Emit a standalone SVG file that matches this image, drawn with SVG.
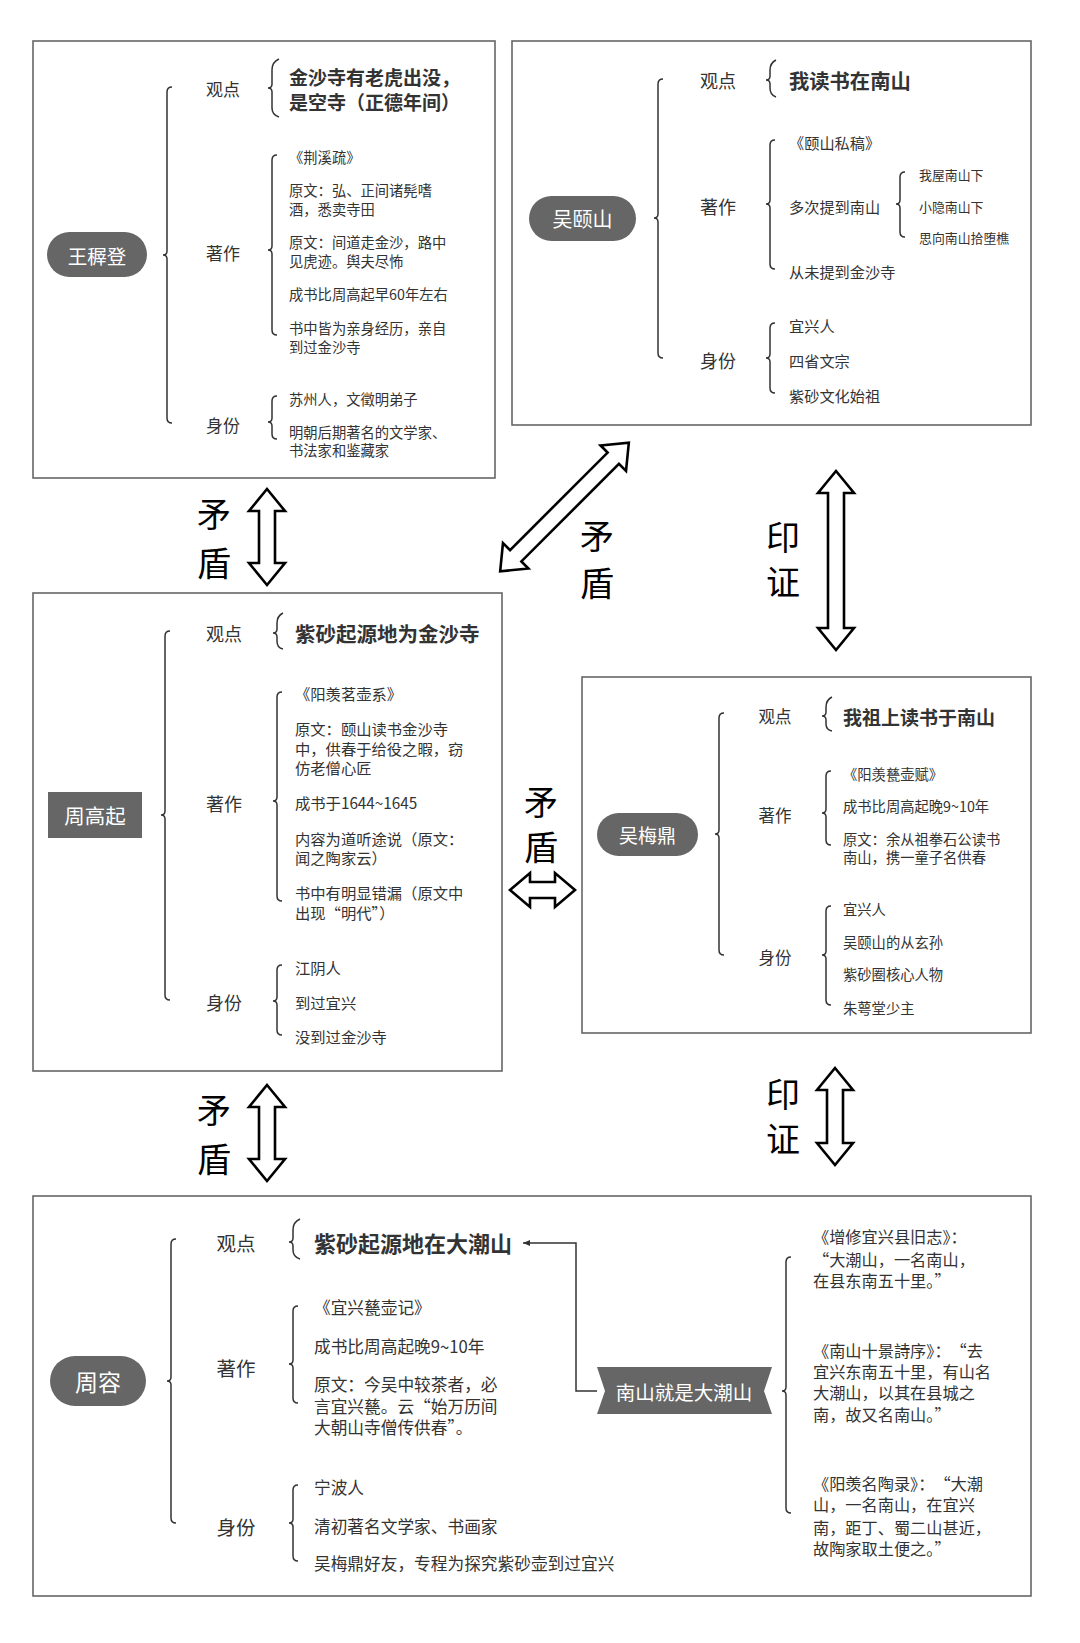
<svg xmlns="http://www.w3.org/2000/svg" width="1080" height="1643" viewBox="0 0 1080 1643">
<style>
text{font-family:"Noto Sans CJK SC","Noto Sans",sans-serif;fill:#333;dominant-baseline:central}
.box{fill:#fff;stroke:#666;stroke-width:1.6}
.br{fill:none;stroke:#333;stroke-width:1.5}
.pill{fill:#666}
.nt{fill:#fff;text-anchor:middle}
.lb{text-anchor:middle}
.b{font-weight:bold}
.arr{fill:#fff;stroke:#000;stroke-width:2.6;stroke-linejoin:miter}
.big{font-size:34px;fill:#000;text-anchor:middle}
.con{fill:none;stroke:#333;stroke-width:1.5}
</style>
<defs>
<marker id="ah" markerWidth="8" markerHeight="8" refX="7" refY="4" orient="auto" markerUnits="userSpaceOnUse">
<path d="M0,1 L7,4 L0,7 z" fill="#333"/>
</marker>
</defs>
<rect width="1080" height="1643" fill="#fff"/>

<g id="wang">
<rect class="box" x="33" y="41" width="462" height="437"/>
<rect class="pill" x="47" y="232" width="100" height="45" rx="22.5"/>
<text class="nt" x="97" y="255" font-size="19.5">王稺登</text>
<path class="br" d="M172,87 Q167,87 167,92 V251 Q167,255 163,255 Q167,255 167,259 V418 Q167,423 172,423"/>
<g font-size="17">
<text class="lb" x="223" y="88">观点</text>
<text class="lb" x="223" y="252">著作</text>
<text class="lb" x="223" y="424">身份</text>
</g>
<path class="br" d="M279,59 Q272,62 272,70 V84 Q272,88 268,88 Q272,88 272,92 V108 Q272,115 279,117"/>
<text class="b" x="289" y="76" font-size="19">金沙寺有老虎出没，</text>
<text class="b" x="289" y="101" font-size="19">是空寺（正德年间）</text>
<path class="br" d="M277,155 Q272,155 272,160 V246 Q272,250 268,250 Q272,250 272,254 V330 Q272,335 277,335"/>
<g font-size="14.3">
<text x="289" y="156">《荆溪疏》</text>
<text x="289" y="189">原文：弘、正间诸髡嗜</text>
<text x="289" y="208">酒，悉卖寺田</text>
<text x="289" y="241">原文：间道走金沙，路中</text>
<text x="289" y="260">见虎迹。舆夫尽怖</text>
<text x="289" y="293">成书比周高起早60年左右</text>
<text x="289" y="327">书中皆为亲身经历，亲自</text>
<text x="289" y="346">到过金沙寺</text>
</g>
<path class="br" d="M277,396 Q272,396 272,401 V418 Q272,422 268,422 Q272,422 272,426 V434 Q272,439 277,439"/>
<g font-size="14.3">
<text x="289" y="398">苏州人，文徵明弟子</text>
<text x="289" y="431">明朝后期著名的文学家、</text>
<text x="289" y="449">书法家和鉴藏家</text>
</g>
</g>

<g id="wuyishan">
<rect class="box" x="512" y="41" width="519" height="384"/>
<rect class="pill" x="529" y="196" width="107" height="45" rx="22.5"/>
<text class="nt" x="582.5" y="218.5" font-size="20">吴颐山</text>
<path class="br" d="M663,79 Q658,79 658,84 V214 Q658,218 654,218 Q658,218 658,222 V353 Q658,358 663,358"/>
<g font-size="18">
<text class="lb" x="718" y="80">观点</text>
<text class="lb" x="718" y="206">著作</text>
<text class="lb" x="718" y="360">身份</text>
</g>
<path class="br" d="M776,60 Q770,63 770,70 V76 Q770,80 766,80 Q770,80 770,84 V88 Q770,95 776,97"/>
<text class="b" x="789" y="80" font-size="20.3">我读书在南山</text>
<path class="br" d="M775,140 Q770,140 770,145 V200 Q770,204 766,204 Q770,204 770,208 V264 Q770,269 775,269"/>
<g font-size="15.2">
<text x="789" y="142">《颐山私稿》</text>
<text x="789" y="206">多次提到南山</text>
<text x="789" y="271">从未提到金沙寺</text>
</g>
<path class="br" d="M905,172 Q900,172 900,177 V200 Q900,204 896,204 Q900,204 900,208 V232 Q900,237 905,237"/>
<g font-size="12.9">
<text x="919" y="174">我屋南山下</text>
<text x="919" y="206">小隐南山下</text>
<text x="919" y="237">思向南山拾堕樵</text>
</g>
<path class="br" d="M775,323 Q770,323 770,328 V354 Q770,358 766,358 Q770,358 770,362 V388 Q770,393 775,393"/>
<g font-size="15.2">
<text x="789" y="325">宜兴人</text>
<text x="789" y="360">四省文宗</text>
<text x="789" y="395">紫砂文化始祖</text>
</g>
</g>

<g id="zhougaoqi">
<rect class="box" x="33" y="593" width="469" height="478"/>
<rect class="pill" x="48" y="792" width="94" height="46"/>
<text class="nt" x="95" y="815" font-size="20.5">周高起</text>
<path class="br" d="M170,631 Q165,631 165,636 V811 Q165,815 161,815 Q165,815 165,819 V995 Q165,1000 170,1000"/>
<g font-size="18">
<text class="lb" x="224" y="633">观点</text>
<text class="lb" x="224" y="803">著作</text>
<text class="lb" x="224" y="1002">身份</text>
</g>
<path class="br" d="M283,613 Q277,616 277,623 V629 Q277,633 273,633 Q277,633 277,637 V641 Q277,648 283,649"/>
<text class="b" x="295" y="633" font-size="20.5">紫砂起源地为金沙寺</text>
<path class="br" d="M282,692 Q277,692 277,697 V797 Q277,801 273,801 Q277,801 277,805 V896 Q277,901 282,901"/>
<g font-size="15.3">
<text x="295" y="693">《阳羡茗壶系》</text>
<text x="295" y="728">原文：颐山读书金沙寺</text>
<text x="295" y="748">中，供春于给役之暇，窃</text>
<text x="295" y="767">仿老僧心匠</text>
<text x="295" y="802">成书于1644~1645</text>
<text x="295" y="838">内容为道听途说（原文：</text>
<text x="295" y="857">闻之陶家云）</text>
<text x="295" y="892">书中有明显错漏（原文中</text>
<text x="295" y="912">出现“明代”）</text>
</g>
<path class="br" d="M282,965 Q277,965 277,970 V997 Q277,1001 273,1001 Q277,1001 277,1005 V1030 Q277,1035 282,1035"/>
<g font-size="15.3">
<text x="295" y="967">江阴人</text>
<text x="295" y="1002">到过宜兴</text>
<text x="295" y="1036">没到过金沙寺</text>
</g>
</g>

<g id="wumeiding">
<rect class="box" x="582" y="677" width="449" height="356"/>
<rect class="pill" x="597" y="813" width="101" height="43" rx="21.5"/>
<text class="nt" x="647.5" y="834.5" font-size="19">吴梅鼎</text>
<path class="br" d="M724,713 Q719,713 719,718 V830 Q719,834 715,834 Q719,834 719,838 V950 Q719,955 724,955"/>
<g font-size="16.5">
<text class="lb" x="775" y="716">观点</text>
<text class="lb" x="775" y="815">著作</text>
<text class="lb" x="775" y="957">身份</text>
</g>
<path class="br" d="M832,697 Q826,700 826,707 V712 Q826,716 822,716 Q826,716 826,720 V724 Q826,730 832,731"/>
<text class="b" x="843" y="716" font-size="19">我祖上读书于南山</text>
<path class="br" d="M831,771 Q826,771 826,776 V809 Q826,813 822,813 Q826,813 826,817 V840 Q826,845 831,845"/>
<g font-size="14.3">
<text x="843" y="773">《阳羡甆壶赋》</text>
<text x="843" y="805">成书比周高起晚9~10年</text>
<text x="843" y="838">原文：余从祖拳石公读书</text>
<text x="843" y="856">南山，携一童子名供春</text>
</g>
<path class="br" d="M831,906 Q826,906 826,911 V951 Q826,955 822,955 Q826,955 826,959 V1000 Q826,1005 831,1005"/>
<g font-size="14.3">
<text x="843" y="908">宜兴人</text>
<text x="843" y="941">吴颐山的从玄孙</text>
<text x="843" y="973">紫砂圈核心人物</text>
<text x="843" y="1007">朱萼堂少主</text>
</g>
</g>

<g id="zhourong">
<rect class="box" x="33" y="1196" width="998" height="400"/>
<rect class="pill" x="50" y="1356" width="96" height="50" rx="25"/>
<text class="nt" x="98" y="1381" font-size="23">周容</text>
<path class="br" d="M176,1239 Q171,1239 171,1244 V1377 Q171,1381 167,1381 Q171,1381 171,1385 V1518 Q171,1523 176,1523"/>
<g font-size="19.5">
<text class="lb" x="236" y="1242">观点</text>
<text class="lb" x="236" y="1367">著作</text>
<text class="lb" x="236" y="1526">身份</text>
</g>
<path class="br" d="M300,1219 Q293,1222 293,1230 V1238 Q293,1242 289,1242 Q293,1242 293,1246 V1250 Q293,1257 300,1259"/>
<text class="b" x="314" y="1242" font-size="22">紫砂起源地在大潮山</text>
<path class="br" d="M298,1306 Q293,1306 293,1311 V1360 Q293,1364 289,1364 Q293,1364 293,1368 V1398 Q293,1403 298,1403"/>
<g font-size="16.7">
<text x="314" y="1307">《宜兴甆壶记》</text>
<text x="314" y="1346">成书比周高起晚9~10年</text>
<text x="314" y="1384">原文：今吴中较茶者，必</text>
<text x="314" y="1406">言宜兴甆。云“始万历间</text>
<text x="314" y="1427">大朝山寺僧传供春”。</text>
</g>
<path class="br" d="M298,1485 Q293,1485 293,1490 V1519 Q293,1523 289,1523 Q293,1523 293,1527 V1556 Q293,1561 298,1561"/>
<g font-size="16.7">
<text x="314" y="1487">宁波人</text>
<text x="314" y="1526">清初著名文学家、书画家</text>
<text x="314" y="1563">吴梅鼎好友，专程为探究紫砂壶到过宜兴</text>
</g>
</g>

<g id="nanshan">
<polygon class="pill" points="597,1367 772,1367 764,1391 772,1414 597,1414 605,1391"/>
<text class="nt" x="684" y="1391" font-size="19.5">南山就是大潮山</text>
<path class="br" d="M791,1257 Q786,1257 786,1262 V1387 Q786,1391 782,1391 Q786,1391 786,1395 V1508 Q786,1513 791,1513"/>
<g font-size="16.2">
<text x="813" y="1236">《增修宜兴县旧志》：</text>
<text x="813" y="1259">“大潮山，一名南山，</text>
<text x="813" y="1280">在县东南五十里。”</text>
<text x="813" y="1350">《南山十景詩序》：　“去</text>
<text x="813" y="1371">宜兴东南五十里，有山名</text>
<text x="813" y="1392">大潮山，以其在县城之</text>
<text x="813" y="1414">南，故又名南山。”</text>
<text x="813" y="1483">《阳羡名陶录》：　“大潮</text>
<text x="813" y="1504">山，一名南山，在宜兴</text>
<text x="813" y="1527">南，距丁、蜀二山甚近，</text>
<text x="813" y="1548">故陶家取土便之。”</text>
</g>
</g>

<g id="connectors">
<path class="con" d="M597,1391 H576 V1243 H523" marker-end="url(#ah)"/>
<polygon class="arr" points="267,489 285,511 275,511 275,563 285,563 267,585 249,563 259,563 259,511 249,511"/>
<polygon class="arr" points="267,1085 285,1107 275,1107 275,1159 285,1159 267,1181 249,1159 259,1159 259,1107 249,1107"/>
<polygon class="arr" points="836,471 854,493 844,493 844,628 854,628 836,650 818,628 828,628 828,493 818,493"/>
<polygon class="arr" points="835,1068 853,1090 843,1090 843,1143 853,1143 835,1165 817,1143 827,1143 827,1090 817,1090"/>
<polygon class="arr" transform="translate(564.5,507) rotate(45)" points="0,-91 18,-69 8,-69 8,69 18,69 0,91 -18,69 -8,69 -8,-69 -18,-69"/>
<polygon class="arr" transform="translate(542.5,890) rotate(90)" points="0,-32.5 17,-12.5 8,-12.5 8,12.5 17,12.5 0,32.5 -17,12.5 -8,12.5 -8,-12.5 -17,-12.5"/>
<text class="big" x="214" y="512">矛</text>
<text class="big" x="214" y="561">盾</text>
<text class="big" x="597" y="534">矛</text>
<text class="big" x="597" y="581">盾</text>
<text class="big" x="783" y="535">印</text>
<text class="big" x="783" y="580">证</text>
<text class="big" x="541" y="800">矛</text>
<text class="big" x="541" y="845">盾</text>
<text class="big" x="214" y="1108">矛</text>
<text class="big" x="214" y="1157">盾</text>
<text class="big" x="783" y="1092">印</text>
<text class="big" x="783" y="1137">证</text>
</g>
</svg>
